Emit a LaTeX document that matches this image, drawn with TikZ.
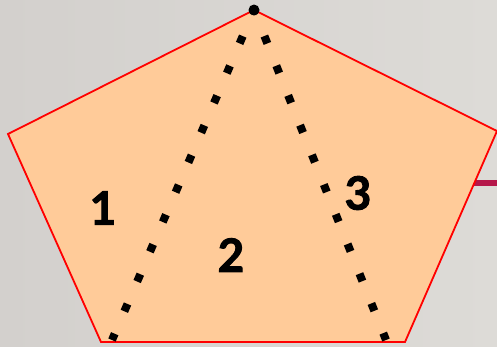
\documentclass[tikz,border=0pt]{standalone}
\usepackage{fontspec}
\setmainfont{Lato}[BoldFeatures={FakeBold=2}]
\definecolor{bgL}{HTML}{D3D0CD}
\definecolor{bgR}{HTML}{DDDBD7}
\definecolor{peach}{HTML}{FFCB99}
\definecolor{maroon}{HTML}{B5174A}
\begin{document}
\begin{tikzpicture}[x=1pt,y=-1pt,
  num/.style={font=\fontsize{46}{46}\selectfont\bfseries, text=black, inner sep=0pt},
  dotline/.style={line width=8pt, line cap=butt, dash pattern=on 8pt off 24.4pt, dash phase=4pt}]
\useasboundingbox (0,0) rectangle (497,346);
\shade[left color=bgL, right color=bgR] (0,0) rectangle (497,346);
\coordinate (bar1) at (440,183);
\coordinate (bar2) at (500,183);
\draw[maroon, line width=6pt] (bar1) -- (bar2);
\coordinate (T) at (254,10);
\coordinate (L) at (8,134);
\coordinate (BL) at (101,342);
\coordinate (BR) at (405,342);
\coordinate (R) at (497,131);
\draw[red, fill=peach, line width=1.8pt, line join=miter] (T) -- (R) -- (BR) -- (BL) -- (L) -- cycle;
\coordinate (E1) at (112,340);
\coordinate (E2) at (386,340);
\draw[dotline] (T) -- (E1);
\draw[dotline, dash pattern=on 8pt off 24pt] (T) -- (E2);
\fill[black] (T) circle (5.5pt);
\node[num] (n1) at (103,208) {1};
\node[num] (n2) at (231,255) {2};
\node[num] (n3) at (358,193) {3};
\end{tikzpicture}
\end{document}
